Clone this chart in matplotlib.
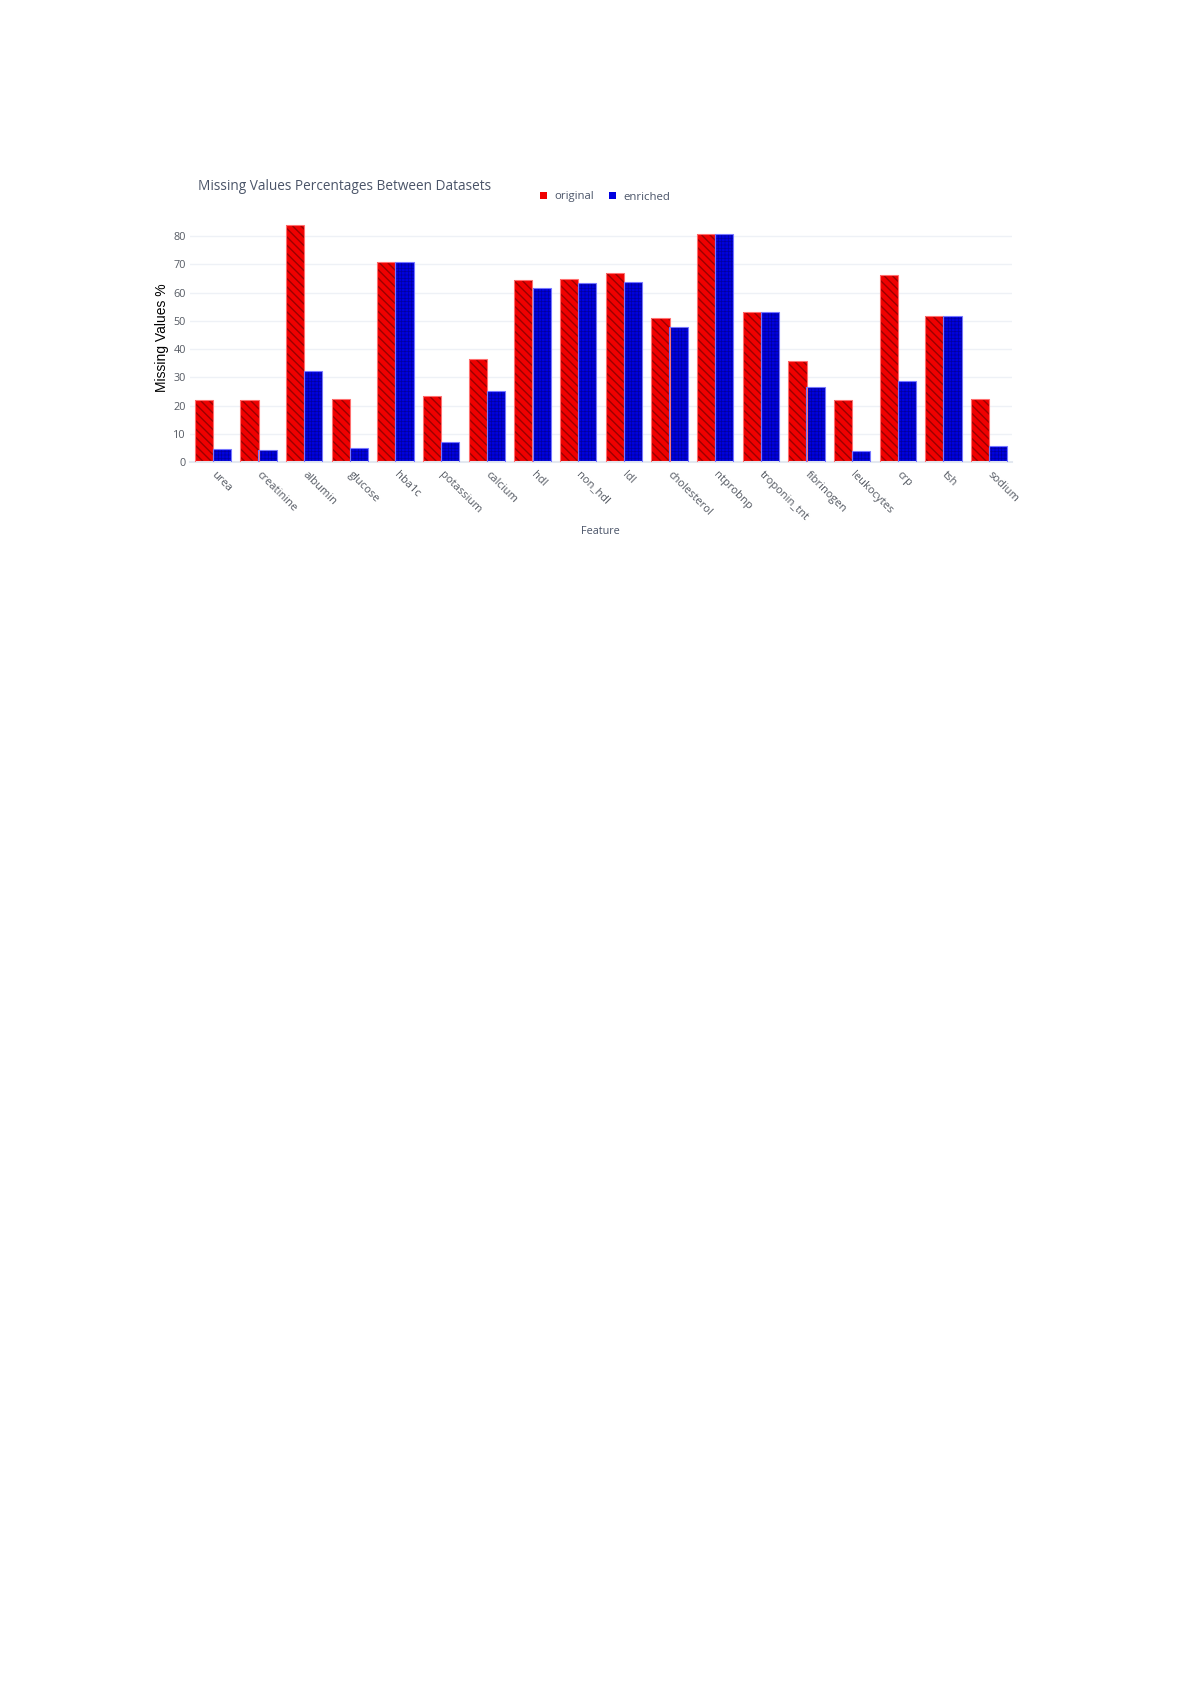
import matplotlib

matplotlib.use("Agg")
import matplotlib.pyplot as plt  # noqa: E402
import numpy as np  # noqa: E402
from matplotlib.patches import Patch  # noqa: E402

FEATURES = [
    "urea", "creatinine", "albumin", "glucose", "hba1c", "potassium",
    "calcium", "hdl", "non_hdl", "ldl", "cholesterol", "ntprobnp",
    "troponin_tnt", "fibrinogen", "leukocytes", "crp", "tsh", "sodium",
]
ORIGINAL = [
    22.1, 22.1, 83.8, 22.3, 70.7, 23.5, 36.5, 64.4, 64.8,
    67.0, 51.1, 80.7, 53.0, 35.6, 22.1, 66.1, 51.6, 22.4,
]
ENRICHED = [
    4.6, 4.2, 32.2, 5.0, 70.7, 7.1, 25.3, 61.6, 63.4,
    63.6, 47.8, 80.7, 53.0, 26.4, 4.0, 28.7, 51.6, 5.8,
]
Y_TICKS = [0, 10, 20, 30, 40, 50, 60, 70, 80]

TEXT_COLOR = "#4a5468"
TICK_COLOR = "#555a63"
GRID_COLOR = "#eef1f6"
RED, RED_HATCH, RED_EDGE = "#f00000", "#9a0000", "#ff7070"
BLUE, BLUE_HATCH, BLUE_EDGE = "#0000e0", "#0000a0", "#7777ff"

W, H = 1192, 1685
plt.rcParams["font.family"] = ["Open Sans", "DejaVu Sans"]

fig = plt.figure(figsize=(W / 100, H / 100), dpi=100)
# plot area measured in pixels from the reference
left, right, bottom_px, top_px = 190, 1012, 462, 213
axis = fig.add_axes(
    [left / W, 1 - bottom_px / H, (right - left) / W, (bottom_px - top_px) / H]
)

x = np.arange(len(FEATURES))
width = 0.4
for values, offset, face, hatch_color, edge, hatch, hatch_lw in [
    (ORIGINAL, -width / 2, RED, RED_HATCH, RED_EDGE, "\\\\\\\\", 1.0),
    (ENRICHED, width / 2, BLUE, BLUE_HATCH, BLUE_EDGE, "+++++", 0.5),
]:
    plt.rcParams["hatch.linewidth"] = hatch_lw
    axis.bar(x + offset, values, width, color=face, edgecolor=hatch_color,
             hatch=hatch, linewidth=0, zorder=2)
    axis.bar(x + offset, values, width, fill=False, edgecolor=edge,
             linewidth=0.8, zorder=3)

axis.set_xlim(-0.5, len(FEATURES) - 0.5)
axis.set_ylim(0, 88.2)
axis.set_yticks(Y_TICKS)
axis.set_xticks(x)
axis.set_xticklabels(FEATURES, rotation=-45, ha="left", va="center",
                     rotation_mode="anchor", fontsize=8, color=TICK_COLOR)
axis.tick_params(axis="x", length=0, pad=8)
axis.tick_params(axis="y", length=0, pad=3, labelsize=7.8, labelcolor=TICK_COLOR)
axis.grid(axis="y", color=GRID_COLOR, linewidth=1, zorder=0)
axis.set_axisbelow(True)
for side in ["top", "right", "left"]:
    axis.spines[side].set_visible(False)
axis.spines["bottom"].set_color("#e3e8f0")
axis.spines["bottom"].set_linewidth(1.5)

fig.text(198 / W, 1 - 186 / H, "Missing Values Percentages Between Datasets",
         fontsize=9.8, color=TEXT_COLOR, va="center", ha="left")
fig.text(162 / W, 1 - 338 / H, "Missing Values %", rotation=90,
         fontsize=10, color="black", va="center", ha="center",
         family=["Liberation Sans", "DejaVu Sans"])
fig.text(600 / W, 1 - 531 / H, "Feature", fontsize=7.8, color=TEXT_COLOR,
         va="center", ha="center")

handles = [Patch(facecolor=RED, label="original"),
           Patch(facecolor=BLUE, label="enriched")]
fig.legend(handles=handles, loc="center left", bbox_to_anchor=(534 / W, 1 - 197 / H),
           ncol=2, frameon=False, fontsize=8.2, labelcolor=TEXT_COLOR,
           handlelength=0.6, handleheight=0.6, handletextpad=0.7,
           columnspacing=1.3, borderpad=0)

fig.savefig("out.png", dpi=100)
